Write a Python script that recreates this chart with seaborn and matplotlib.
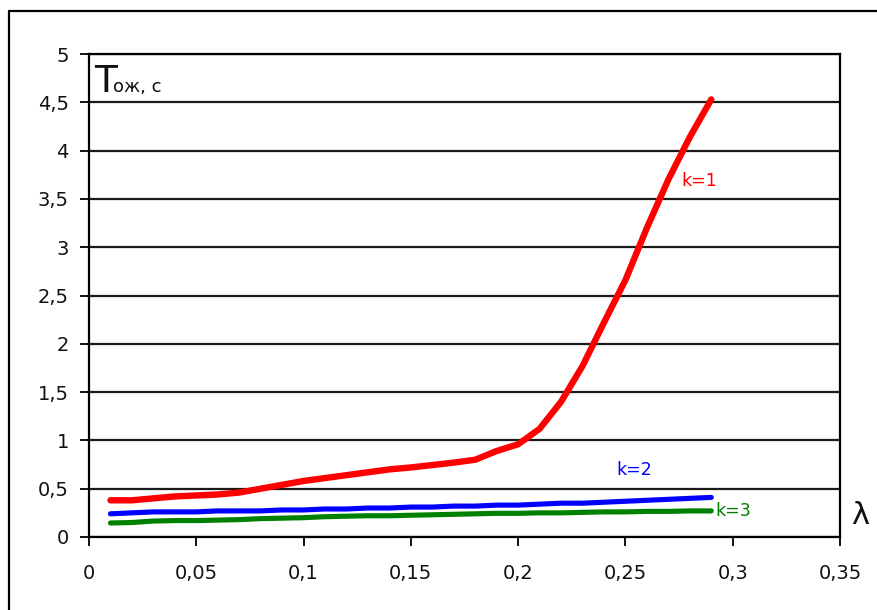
import matplotlib
matplotlib.use("Agg")
import matplotlib.pyplot as plt
from matplotlib.lines import Line2D
import numpy as np
import pandas as pd
import seaborn as sns

# ---- data ----
lam = [0.01, 0.02, 0.03, 0.04, 0.05, 0.06, 0.07, 0.08, 0.09, 0.10,
       0.11, 0.12, 0.13, 0.14, 0.15, 0.16, 0.17, 0.18, 0.19, 0.20,
       0.21, 0.22, 0.23, 0.24, 0.25, 0.26, 0.27, 0.28, 0.29]
t_k1 = [0.38, 0.38, 0.40, 0.42, 0.43, 0.44, 0.46, 0.50, 0.54, 0.58,
        0.61, 0.64, 0.67, 0.70, 0.72, 0.745, 0.77, 0.80, 0.89, 0.96,
        1.12, 1.40, 1.77, 2.22, 2.66, 3.20, 3.70, 4.14, 4.53]
t_k2 = [0.24, 0.25, 0.26, 0.26, 0.26, 0.27, 0.27, 0.27, 0.28, 0.28,
        0.29, 0.29, 0.30, 0.30, 0.31, 0.31, 0.32, 0.32, 0.33, 0.33,
        0.34, 0.35, 0.35, 0.36, 0.37, 0.38, 0.39, 0.40, 0.41]
t_k3 = [0.145, 0.15, 0.165, 0.17, 0.17, 0.175, 0.18, 0.19, 0.195, 0.20,
        0.21, 0.215, 0.22, 0.22, 0.225, 0.23, 0.235, 0.24, 0.245, 0.245,
        0.25, 0.25, 0.255, 0.26, 0.26, 0.265, 0.265, 0.27, 0.27]
series_names = ["k=1", "k=2", "k=3"]
series_colors = ["#FF0000", "#0000FF", "#008000"]
xticks = [0, 0.05, 0.1, 0.15, 0.2, 0.25, 0.3, 0.35]
xtick_labels = ["0", "0,05", "0,1", "0,15", "0,2", "0,25", "0,3", "0,35"]
yticks = [0, 0.5, 1, 1.5, 2, 2.5, 3, 3.5, 4, 4.5, 5]
ytick_labels = ["0", "0,5", "1", "1,5", "2", "2,5", "3", "3,5", "4", "4,5", "5"]
ylabel_big = "T"
ylabel_small = "ож, с"
xlabel = "λ"

sns.set_theme(style="white")
plt.rcParams["font.family"] = ["DejaVu Sans"]

fig = plt.figure(figsize=(8.77, 6.10), dpi=100)
ax = fig.add_axes([89 / 877, 73 / 610, (840 - 89) / 877, (537 - 54) / 610])

df = pd.DataFrame({"lam": lam * 3,
                   "T": t_k1 + t_k2 + t_k3,
                   "k": [series_names[0]] * len(lam) + [series_names[1]] * len(lam)
                        + [series_names[2]] * len(lam)})
widths = [4.6, 3.7, 3.7]
# draw k=3, k=2 first, then k=1
for name, col, lw in list(zip(series_names, series_colors, widths))[::-1]:
    sub = df[df["k"] == name]
    sns.lineplot(data=sub, x="lam", y="T", color=col, linewidth=lw,
                 ax=ax, legend=False, estimator=None, sort=False, zorder=3)

ax.set_xlim(0, 0.35)
ax.set_ylim(0, 5)
ax.set_xticks(xticks, xtick_labels)
ax.set_yticks(yticks, ytick_labels)
ax.set_xlabel("")
ax.set_ylabel("")
ax.grid(axis="y", color="#1a1a1a", linewidth=1.6)
ax.grid(axis="x", visible=False)
for s in ax.spines.values():
    s.set_color("black")
    s.set_linewidth(1.6)
ax.tick_params(axis="both", direction="out", length=6.5, width=1.3, color="black",
               labelsize=14, labelcolor="#111111")
ax.tick_params(axis="x", pad=13)
ax.tick_params(axis="y", pad=8)
ax.tick_params(left=True, bottom=True)

# labels
ax.text(0.0022, 4.61, ylabel_big, fontsize=27, color="#111111", va="baseline",
        ha="left")
ax.text(0.0112, 4.61, ylabel_small, fontsize=13, color="#111111", va="baseline",
        ha="left")
ax.text(0.3593, 0.22, xlabel, fontsize=22, color="#111111", va="center",
        ha="center", clip_on=False)
label_pos = [(0.2763, 3.685), (0.246, 0.694), (0.2917, 0.27)]
for name, col, (lx, ly) in zip(series_names, series_colors, label_pos):
    ax.text(lx, ly, name, color=col, fontsize=12.5, va="center", ha="left",
            zorder=4)

# outer frame
fig.add_artist(Line2D([9 / 877, 9 / 877], [0, 1 - 11 / 610], color="black",
                      linewidth=1.6))
fig.add_artist(Line2D([9 / 877, 1.0], [1 - 11 / 610, 1 - 11 / 610], color="black",
                      linewidth=1.6))

fig.savefig("out.png", dpi=100, facecolor="white")
